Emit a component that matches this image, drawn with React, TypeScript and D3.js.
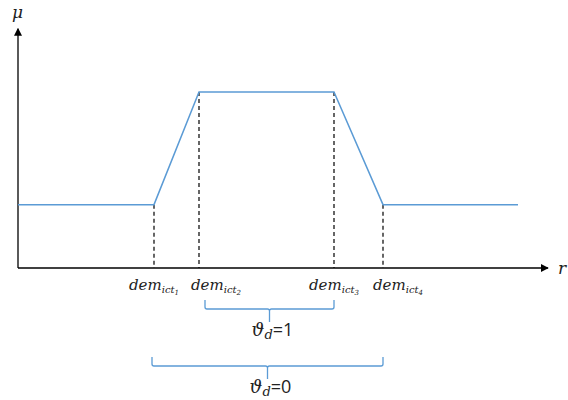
import * as d3 from "d3";
import { useEffect, useRef } from "react";

// membership curve: r positions and mu values
const curveR = [0, 2.72, 3.62, 6.32, 7.3, 10];
const curveMu = [0.36, 0.36, 1, 1, 0.36, 0.36];

// break points that get a dashed drop line and a label
const breakR = [2.72, 3.62, 6.32, 7.3];
const breakSub = ["1", "2", "3", "4"];
// label shift in r units (labels 2 and 4 sit right of their line)
const labelShift = [0, 0.34, 0, 0.3];

// braces: [from index, to index], label digit
const braceFrom = [1, 0];
const braceTo = [2, 3];
const braceStartShift = [0.12, -0.04];
const braceValue = ["1", "0"];

const W = 568;
const H = 400;
const BLUE = "#5b9bd5";
const SERIF = "'DejaVu Serif', 'Liberation Serif', serif";

export default function App() {
  const ref = useRef<SVGSVGElement>(null);

  useEffect(() => {
    const svg = d3.select(ref.current);
    svg.selectAll("*").remove();

    const x = d3.scaleLinear().domain([0, 10]).range([18, 518]);
    const y = d3.scaleLinear().domain([0, 1]).range([268, 92]);

    const defs = svg.append("defs");
    defs.append("marker")
      .attr("id", "arrow")
      .attr("viewBox", "0 0 10 10")
      .attr("refX", 9)
      .attr("refY", 5)
      .attr("markerWidth", 8)
      .attr("markerHeight", 8)
      .attr("markerUnits", "userSpaceOnUse")
      .attr("orient", "auto")
      .append("path")
      .attr("d", "M0,0L10,5L0,10Z")
      .attr("fill", "#000");

    // axes
    svg.append("line")
      .attr("x1", x(0)).attr("y1", y(0))
      .attr("x2", x(10.6)).attr("y2", y(0))
      .attr("stroke", "#000").attr("stroke-width", 1.3)
      .attr("marker-end", "url(#arrow)");
    svg.append("line")
      .attr("x1", x(0)).attr("y1", y(0))
      .attr("x2", x(0)).attr("y2", y(1.36))
      .attr("stroke", "#000").attr("stroke-width", 1.3)
      .attr("marker-end", "url(#arrow)");

    svg.append("text")
      .attr("x", x(0) - 6).attr("y", y(1.42))
      .style("font-family", SERIF).style("font-style", "italic")
      .style("font-size", "17px")
      .style("fill", "#222")
      .text("μ");
    svg.append("text")
      .attr("x", x(10.6) + 10).attr("y", y(0) + 6)
      .style("font-family", SERIF).style("font-style", "italic")
      .style("font-size", "17px")
      .style("fill", "#222")
      .text("r");

    // dashed drop lines
    svg.selectAll("line.drop")
      .data(breakR)
      .join("line")
      .attr("class", "drop")
      .attr("x1", (d) => x(d)).attr("x2", (d) => x(d))
      .attr("y1", (d, i) => y(curveMu[i + 1]))
      .attr("y2", y(0))
      .attr("stroke", "#000")
      .attr("stroke-width", 1.2)
      .attr("stroke-dasharray", "4,3");

    // membership curve
    const line = d3.line<number>()
      .x((d) => x(d))
      .y((d, i) => y(curveMu[i]));
    svg.append("path")
      .attr("d", line(curveR))
      .attr("fill", "none")
      .attr("stroke", BLUE)
      .attr("stroke-width", 1.5);

    // break labels dem_{ict_n}
    breakR.forEach((r, i) => {
      const t = svg.append("text")
        .attr("x", x(r + labelShift[i]))
        .attr("y", 290)
        .attr("text-anchor", "middle")
        .style("font-family", SERIF)
        .style("font-style", "italic")
        .style("fill", "#222");
      t.append("tspan").style("font-size", "15px").text("dem");
      t.append("tspan").style("font-size", "10px").attr("dy", 3).text("ict");
      t.append("tspan").style("font-size", "7px").attr("dy", 2).text(breakSub[i]);
    });

    // braces
    braceFrom.forEach((from, i) => {
      const x0 = x(breakR[from] + braceStartShift[i]);
      const x1 = x(breakR[braceTo[i]]);
      const top = i === 0 ? 300 : 357;
      const mid = top + 9;
      const xm = (x0 + x1) / 2;
      svg.append("path")
        .attr("d",
          `M${x0},${top}V${mid - 2}Q${x0},${mid} ${x0 + 2},${mid}H${xm - 2}Q${xm},${mid} ${xm},${mid + 2}V${mid + 13}` +
          `M${xm},${mid + 2}Q${xm},${mid} ${xm + 2},${mid}H${x1 - 2}Q${x1},${mid} ${x1},${mid - 2}V${top}`)
        .attr("fill", "none")
        .attr("stroke", BLUE)
        .attr("stroke-width", 1.3);

      const t = svg.append("text")
        .attr("x", xm + 3)
        .attr("y", mid + 27)
        .attr("text-anchor", "middle")
        .style("font-family", SERIF)
        .style("fill", "#222");
      t.append("tspan").style("font-size", "18px").style("font-style", "italic").text("ϑ");
      t.append("tspan").style("font-size", "13px").style("font-style", "italic").attr("dy", 3).text("d");
      t.append("tspan").style("font-size", "18px").style("font-family", "'Open Sans', 'Liberation Sans', sans-serif").attr("dy", -3).text("=" + braceValue[i]);
    });
  }, []);

  return (
    <svg
      ref={ref}
      width={W}
      height={H}
      style={{ position: "absolute", left: 0, top: 0, background: "#fff" }}
    />
  );
}
